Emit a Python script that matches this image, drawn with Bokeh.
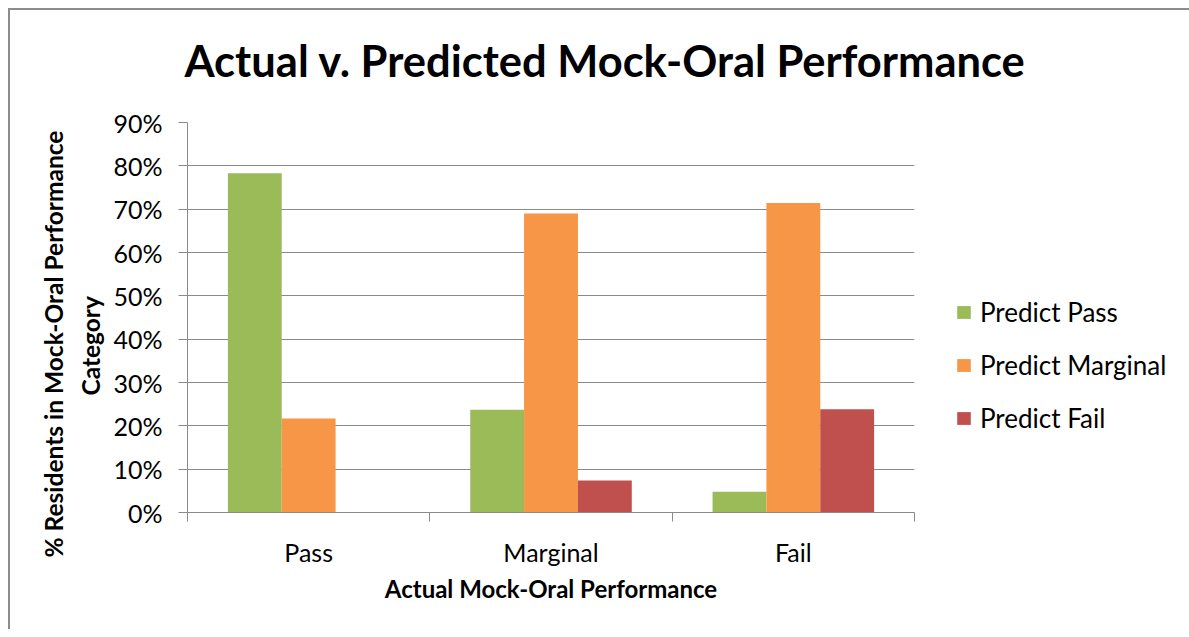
from bokeh.plotting import figure
from bokeh.models import (ColumnDataSource, Range1d, FixedTicker, PrintfTickFormatter,
                          Legend, LegendItem, Title)
from bokeh.transform import dodge
from bokeh.embed import file_html
from bokeh.resources import INLINE

# ---- data ----
categories = ["Pass", "Marginal", "Fail"]
series_names = ["Predict Pass", "Predict Marginal", "Predict Fail"]
predict_pass = [78.3, 23.7, 4.8]
predict_marginal = [21.7, 69.0, 71.4]
predict_fail = [0.0, 7.4, 23.8]
y_ticks = [0, 10, 20, 30, 40, 50, 60, 70, 80, 90]
colors = ["#9BBB59", "#F79646", "#C0504D"]

title_text = "Actual v. Predicted Mock-Oral Performance"
x_title = "Actual Mock-Oral Performance"
y_title_1 = "% Residents in Mock-Oral Performance"
y_title_2 = "Category"

FONT = "Lato"
GRAY = "#8a8a8a"

centers = [i + 0.5 for i in range(len(categories))]
bounds = list(range(len(categories) + 1))
source = ColumnDataSource(dict(x=centers, pp=predict_pass, pm=predict_marginal, pf=predict_fail))

p = figure(frame_width=727, frame_height=390,
           x_range=Range1d(0, len(categories)), y_range=Range1d(y_ticks[0], y_ticks[-1]),
           output_backend="svg", toolbar_location=None,
           min_border_left=187, min_border_right=267, min_border_top=122, min_border_bottom=117)
p.title = None
# chart-area border (top/left) drawn as inset shadows
p.styles = {"box-shadow": "inset 8px 8px 0 0 white, inset 10px 10px 0 0 #8c8c8c"}
p.outline_line_color = None
p.background_fill_color = "white"
p.border_fill_alpha = 0

# title (a thin spacer sits between the title and the plot area)
spacer = Title(text=" ", text_font_size="1px", standoff=34)
main_title = Title(text=title_text, align="left", offset=-3, standoff=0,
                   text_font=FONT, text_font_size="43.5px", text_font_style="bold",
                   text_color="black")
p.add_layout(spacer, "above")
p.add_layout(main_title, "above")

# bars
w = 1 / 4.5
fields = ["pp", "pm", "pf"]
offs = [-w, 0, w]
rs = []
for f, o, c in zip(fields, offs, colors):
    r = p.vbar(x=dodge("x", o), top=f, width=w, source=source,
               fill_color=c, line_color=None)
    rs.append(r)

# y axis
p.yaxis.ticker = FixedTicker(ticks=y_ticks, minor_ticks=[])
p.yaxis.formatter = PrintfTickFormatter(format="%d%%")
p.yaxis.major_tick_in = 0
p.yaxis.major_tick_out = 9
p.yaxis.minor_tick_in = 0
p.yaxis.minor_tick_out = 0
p.yaxis.axis_line_color = GRAY
p.yaxis.major_tick_line_color = GRAY
p.yaxis.major_label_text_font = FONT
p.yaxis.major_label_text_font_size = "25px"
p.yaxis.major_label_text_color = "black"
p.yaxis.major_label_standoff = 16
p.ygrid.ticker = FixedTicker(ticks=y_ticks, minor_ticks=[])
p.ygrid.grid_line_color = GRAY
p.xgrid.visible = False

# x axis
p.xaxis.ticker = FixedTicker(ticks=centers, minor_ticks=bounds)
p.xaxis.major_label_overrides = {c: n for c, n in zip(centers, categories)}
p.xaxis.major_tick_line_color = None
p.xaxis.major_tick_in = 0
p.xaxis.major_tick_out = 0
p.xaxis.minor_tick_in = 0
p.xaxis.minor_tick_out = 9
p.xaxis.minor_tick_line_color = GRAY
p.xaxis.axis_line_color = GRAY
p.xaxis.major_label_text_font = FONT
p.xaxis.major_label_text_font_size = "25px"
p.xaxis.major_label_text_color = "black"
p.xaxis.major_label_standoff = 15
p.xaxis.axis_label = x_title
p.xaxis.axis_label_text_font = FONT
p.xaxis.axis_label_text_font_size = "24px"
p.xaxis.axis_label_text_font_style = "bold"
p.xaxis.axis_label_text_color = "black"
p.xaxis.axis_label_standoff = 4

# y axis title: two lines, each its own title on the left
tA = Title(text=y_title_2, align="left", offset=117, standoff=12,
           text_font=FONT, text_font_size="24.5px", text_font_style="bold", text_color="black")
tB = Title(text=y_title_1, align="left", offset=-45, standoff=0,
           text_font=FONT, text_font_size="24.5px", text_font_style="bold", text_color="black")
p.add_layout(tA, "left")
p.add_layout(tB, "left")

# legend
legend = Legend(items=[LegendItem(label=n, renderers=[r]) for n, r in zip(series_names, rs)],
                location=(41, 78), orientation="vertical",
                glyph_width=17, glyph_height=16, label_height=31, spacing=21,
                padding=0, margin=0, label_standoff=8,
                border_line_color=None, background_fill_alpha=0,
                label_text_font=FONT, label_text_font_size="26px", label_text_color="black")
p.add_layout(legend, "right")

open("out.html", "w").write(file_html(p, INLINE))
